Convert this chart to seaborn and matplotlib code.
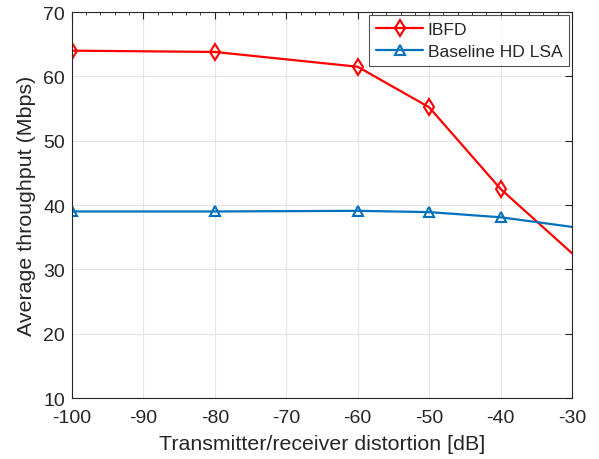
import matplotlib
matplotlib.use("Agg")
import matplotlib.pyplot as plt
import seaborn as sns
import pandas as pd
from matplotlib.ticker import MultipleLocator

distortion = [-100, -80, -60, -50, -40, -30]
ibfd = [64.0, 63.8, 61.5, 55.2, 42.5, 32.5]
baseline = [39.0, 39.0, 39.1, 38.9, 38.1, 36.6]
series_names = ["IBFD", "Baseline HD LSA"]

sns.set_style("white")
plt.rcParams["font.family"] = ["Liberation Sans", "DejaVu Sans"]
plt.rcParams["axes.unicode_minus"] = False

df = pd.DataFrame({
    "x": distortion * 2,
    "y": ibfd + baseline,
    "s": [series_names[0]] * len(distortion) + [series_names[1]] * len(distortion),
})

fig = plt.figure(figsize=(5.99, 4.60), dpi=100)
ax = fig.add_axes([0.120, 0.1326, 0.835, 0.839])

colors = {"IBFD": "#FF0000", "Baseline HD LSA": "#0072BD"}
markers = {"IBFD": "d", "Baseline HD LSA": "^"}
msizes = {"IBFD": 8, "Baseline HD LSA": 7.5}
for name in series_names:
    sub = df[df["s"] == name]
    sns.lineplot(data=sub, x="x", y="y", ax=ax, color=colors[name], label=name,
                 marker=markers[name], markersize=msizes[name], markerfacecolor="none",
                 markeredgecolor=colors[name], markeredgewidth=1.5, linewidth=1.6,
                 markevery=list(range(len(sub) - 1)))

ax.set_xlim(-100, -30)
ax.set_ylim(10, 70)
ax.xaxis.set_major_locator(MultipleLocator(10))
ax.xaxis.set_minor_locator(MultipleLocator(2))
ax.yaxis.set_major_locator(MultipleLocator(10))
ax.grid(True, which="major", color="#E6E6E6", linewidth=0.8)
ax.set_axisbelow(True)
for sp in ax.spines.values():
    sp.set_color("#262626")
    sp.set_linewidth(0.8)
ax.tick_params(which="both", direction="in", top=True, right=True, colors="#262626",
               labelsize=14, labelcolor="#262626")
ax.tick_params(which="major", length=5)
ax.tick_params(which="minor", length=2.5)
ax.tick_params(axis="x", which="major", pad=8)
ax.tick_params(axis="y", which="major", pad=5)
ax.set_xlabel("Transmitter/receiver distortion [dB]", fontsize=15.4, color="#262626", labelpad=6)
ax.set_ylabel("Average throughput (Mbps)", fontsize=15.4, color="#262626", labelpad=5)

leg = ax.legend(loc="upper right", fontsize=12.6, frameon=True, fancybox=False,
                edgecolor="#262626", borderaxespad=0.15, handlelength=2.7,
                borderpad=0.4, labelspacing=0.4, handletextpad=0.25)
leg.get_frame().set_linewidth(0.8)

fig.savefig("out.png", dpi=100)
